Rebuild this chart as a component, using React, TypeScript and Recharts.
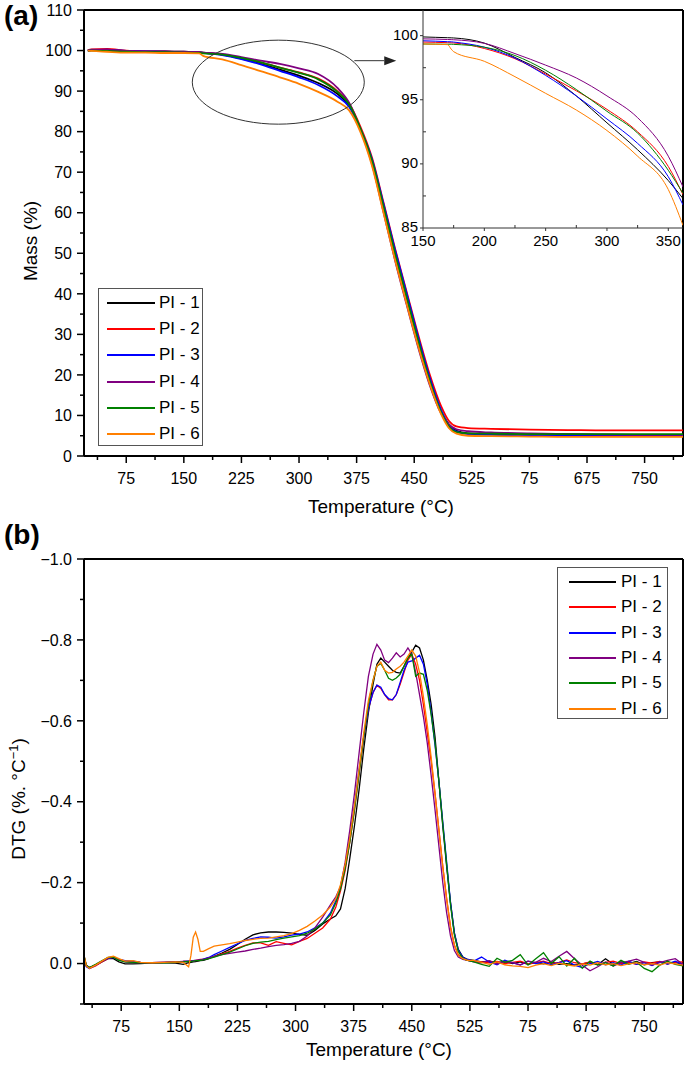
import React from 'react';
import { LineChart, Line, XAxis, YAxis, ReferenceLine, ReferenceDot, Legend } from 'recharts';

const FONT = '"Liberation Sans", Arial, Helvetica, sans-serif';

const seriesNames = ['PI - 1', 'PI - 2', 'PI - 3', 'PI - 4', 'PI - 5', 'PI - 6'];
const seriesKeys = ['s1', 's2', 's3', 's4', 's5', 's6'];
const seriesColors = ['#000000', '#ff0000', '#0000ff', '#800080', '#008000', '#ff7f00'];

// ---------- Panel (a): TGA ----------
const tgaTemp = [25, 30, 50, 75, 100, 125, 150, 170, 175, 200, 225, 250, 275, 300, 325, 350, 365, 380, 395, 410, 425, 440, 455, 470, 485, 495, 505, 520, 550, 600, 650, 700, 750, 800];
const tgaPI1 = [100.0, 100.1, 100.1, 99.9, 99.8, 99.8, 99.7, 99.6, 99.5, 99.0, 98.0, 96.8, 95.3, 93.8, 92.0, 89.3, 86.5, 80.6, 72.8, 61.5, 50.0, 39.3, 28.6, 18.6, 11.0, 7.8, 6.2, 5.6, 5.4, 5.3, 5.3, 5.2, 5.2, 5.2];
const tgaPI2 = [100.1, 100.3, 100.4, 100.0, 99.8, 99.7, 99.6, 99.5, 99.4, 99.0, 98.2, 97.1, 95.8, 94.6, 93.1, 90.0, 87.0, 81.2, 73.6, 62.5, 51.2, 40.6, 30.0, 20.2, 12.3, 8.7, 7.3, 6.9, 6.7, 6.5, 6.4, 6.3, 6.3, 6.3];
const tgaPI3 = [100.0, 100.1, 100.2, 99.9, 99.8, 99.7, 99.6, 99.5, 99.4, 98.9, 97.9, 96.6, 95.0, 93.4, 91.5, 88.7, 86.2, 80.6, 73.2, 62.2, 50.9, 40.2, 29.4, 19.4, 11.3, 7.6, 6.0, 5.4, 5.2, 5.1, 5.0, 5.0, 5.0, 5.0];
const tgaPI4 = [100.0, 100.2, 100.2, 99.9, 99.8, 99.8, 99.7, 99.6, 99.5, 99.2, 98.4, 97.5, 96.7, 95.6, 94.2, 90.8, 87.2, 80.6, 72.0, 60.2, 48.3, 37.4, 26.9, 17.6, 10.5, 7.8, 6.6, 6.1, 5.8, 5.6, 5.4, 5.3, 5.2, 5.2];
const tgaPI5 = [100.0, 100.0, 99.9, 99.7, 99.6, 99.6, 99.5, 99.4, 99.3, 99.0, 98.2, 97.1, 95.8, 94.5, 92.9, 89.8, 86.8, 80.7, 72.9, 61.6, 50.0, 39.3, 28.6, 18.7, 10.8, 7.3, 5.9, 5.6, 5.5, 5.4, 5.4, 5.4, 5.4, 5.4];
const tgaPI6 = [100.0, 99.9, 99.7, 99.5, 99.5, 99.4, 99.4, 99.3, 98.7, 97.8, 96.4, 94.9, 93.4, 91.8, 89.8, 87.4, 85.3, 79.9, 71.6, 60.0, 48.4, 37.6, 27.2, 17.9, 10.3, 6.9, 5.5, 5.0, 4.9, 4.8, 4.7, 4.7, 4.7, 4.7];

// Inset of panel (a)
const insetTemp = [150, 160, 170, 173, 175, 200, 225, 250, 275, 300, 325, 350, 362];
const insetPI1 = [99.9, 99.87, 99.84, 99.83, 99.82, 99.42, 98.3, 97.1, 95.3, 93.2, 91.1, 88.7, 87.3];
const insetPI2 = [99.5, 99.48, 99.45, 99.44, 99.43, 99.0, 98.2, 97.0, 95.7, 94.25, 92.5, 89.8, 87.6];
const insetPI3 = [99.6, 99.57, 99.53, 99.52, 99.5, 99.1, 98.25, 96.9, 95.3, 93.5, 91.6, 89.0, 86.8];
const insetPI4 = [99.75, 99.73, 99.7, 99.69, 99.68, 99.4, 98.6, 97.7, 96.7, 95.3, 93.6, 90.6, 88.2];
const insetPI5 = [99.35, 99.34, 99.33, 99.33, 99.32, 99.1, 98.45, 97.3, 95.8, 94.1, 92.4, 89.5, 87.7];
const insetPI6 = [99.35, 99.33, 99.3, 98.95, 98.75, 98.0, 96.8, 95.5, 94.2, 92.6, 90.6, 88.0, 85.2];

// ---------- Panel (b): DTG ----------
const dtgTemp = [
  27, 30, 34, 42, 50, 58, 65, 72, 80, 90, 100, 115, 130, 145, 155,
  162, 165, 168, 171, 174, 177, 181,
  188, 195,
  205, 215, 225, 235, 245, 255, 265, 275, 285, 295, 305, 315, 325, 335, 345,
  352, 358, 364, 370, 376, 382, 388, 394, 400,
  405, 410, 415, 420, 425, 430, 435, 440, 445, 450, 455, 460, 465, 470, 475, 480, 485, 490, 495, 500, 505, 510,
  516, 522,
  530, 540, 550, 560, 570, 580, 590, 600, 610, 620, 630, 640, 650, 660, 670, 680, 690, 700, 710, 720, 730, 740, 750, 760, 770, 780, 790, 800,
];
const dtgPI1 = [
  -0.02, 0.004, 0.01, 0.004, -0.004, -0.012, -0.012, -0.004, 0.001, 0.001, 0, -0.002, -0.002, -0.001, 0.002,
  -0.002, -0.003, -0.004, -0.005, -0.006, -0.007, -0.008,
  -0.012, -0.018,
  -0.026, -0.035, -0.047, -0.06, -0.071, -0.076, -0.078, -0.078, -0.077, -0.075, -0.072, -0.07, -0.082, -0.098, -0.11,
  -0.118, -0.135, -0.185, -0.26, -0.34, -0.43, -0.53, -0.62, -0.69,
  -0.74, -0.755, -0.745, -0.735, -0.725, -0.72, -0.718, -0.735, -0.755, -0.77, -0.787, -0.78, -0.75, -0.7, -0.64, -0.56, -0.45, -0.34, -0.24, -0.15, -0.075, -0.035,
  -0.016, -0.01,
  -0.008, -0.004, -0.006, -0.002, -0.005, 0, -0.004, 0.002, -0.003, 0.001, -0.004, 0.002, 0, 0.004, 0.001, -0.003, 0.003, -0.012, 0.002, -0.004, 0, -0.005, 0.003, -0.002, -0.004, 0.001, -0.003, 0.002,
];
const dtgPI2 = [
  -0.015, 0.006, 0.012, 0.006, -0.004, -0.012, -0.016, -0.01, -0.006, -0.005, -0.003, -0.002, -0.003, -0.004, -0.005,
  -0.006, -0.007, -0.007, -0.008, -0.009, -0.01, -0.011,
  -0.014, -0.017,
  -0.024, -0.03, -0.038, -0.045, -0.051, -0.051, -0.045, -0.054, -0.05, -0.046, -0.055, -0.062, -0.075, -0.088, -0.11,
  -0.14, -0.18, -0.23, -0.3, -0.38, -0.47, -0.56, -0.63, -0.67,
  -0.688, -0.68, -0.665, -0.652, -0.652, -0.665, -0.69, -0.72, -0.75, -0.765, -0.74, -0.7, -0.64, -0.57, -0.5, -0.42, -0.33, -0.24, -0.16, -0.09, -0.045, -0.022,
  -0.012, -0.008,
  -0.006, -0.004, -0.002, -0.005, 0, -0.003, -0.006, 0.001, -0.002, -0.006, 0, -0.003, -0.009, -0.002, 0.001, -0.004, 0.002, -0.003, -0.006, 0, -0.003, 0.002, -0.004, -0.001, -0.005, 0.001, -0.003, -0.004,
];
const dtgPI3 = [
  -0.01, 0.008, 0.012, 0.004, -0.006, -0.013, -0.015, -0.01, -0.007, -0.006, -0.003, -0.002, -0.003, -0.004, -0.005,
  -0.006, -0.006, -0.007, -0.008, -0.008, -0.009, -0.011,
  -0.015, -0.022,
  -0.031, -0.04, -0.049, -0.057, -0.062, -0.066, -0.065, -0.063, -0.066, -0.07, -0.073, -0.078, -0.088, -0.1, -0.125,
  -0.155, -0.19, -0.24, -0.31, -0.39, -0.48, -0.56, -0.63, -0.67,
  -0.688, -0.683, -0.665, -0.655, -0.652, -0.665, -0.695, -0.725, -0.745, -0.748, -0.755, -0.762, -0.74, -0.69, -0.62, -0.54, -0.45, -0.35, -0.25, -0.15, -0.075, -0.033,
  -0.015, -0.01,
  -0.006, -0.016, -0.004, 0.003, -0.008, -0.002, 0.004, -0.006, 0, -0.004, 0.003, -0.002, -0.007, 0.004, 0.01, 0, -0.005, 0.003, -0.002, 0.004, -0.006, 0.002, -0.002, 0.005, -0.004, 0.001, -0.006, 0.003,
];
const dtgPI4 = [
  -0.012, 0.006, 0.01, 0.004, -0.005, -0.014, -0.017, -0.01, -0.004, -0.003, -0.002, -0.002, -0.003, -0.004, -0.005,
  -0.005, -0.006, -0.006, -0.007, -0.008, -0.009, -0.01,
  -0.014, -0.018,
  -0.022, -0.025, -0.028, -0.031, -0.035, -0.038, -0.042, -0.045, -0.047, -0.05, -0.055, -0.068, -0.088, -0.115, -0.145,
  -0.165, -0.19, -0.25, -0.33, -0.42, -0.52, -0.62, -0.71, -0.765,
  -0.789, -0.775, -0.75, -0.744, -0.755, -0.768, -0.758, -0.765, -0.78, -0.765, -0.72, -0.665, -0.61, -0.545, -0.465, -0.38, -0.29, -0.2, -0.125, -0.068, -0.032, -0.016,
  -0.01, -0.008,
  -0.004, -0.002, -0.007, 0.001, -0.005, -0.002, 0.003, -0.006, -0.003, -0.013, -0.005, -0.018, -0.03, -0.012, 0.004, 0.018, 0.008, -0.004, 0.006, -0.002, -0.006, -0.011, -0.003, 0.004, -0.002, -0.008, -0.012, 0.002,
];
const dtgPI5 = [
  -0.018, 0.005, 0.01, 0.002, -0.007, -0.015, -0.016, -0.008, -0.004, -0.003, -0.002, -0.002, -0.002, -0.003, -0.004,
  -0.005, -0.005, -0.006, -0.007, -0.007, -0.008, -0.009,
  -0.012, -0.016,
  -0.022, -0.028, -0.036, -0.044, -0.05, -0.053, -0.055, -0.059, -0.063, -0.066, -0.069, -0.075, -0.085, -0.1, -0.12,
  -0.15, -0.185, -0.235, -0.3, -0.38, -0.47, -0.56, -0.64, -0.7,
  -0.735, -0.742, -0.725, -0.705, -0.7, -0.706, -0.715, -0.735, -0.755, -0.765, -0.71, -0.718, -0.715, -0.675, -0.615, -0.545, -0.45, -0.345, -0.245, -0.145, -0.07, -0.03,
  -0.012, -0.008,
  -0.004, 0.002, 0.007, -0.013, -0.003, -0.008, -0.022, 0.004, -0.012, -0.027, 0, -0.017, 0.006, -0.013, 0.012, -0.006, 0.004, -0.002, 0.006, -0.008, 0.002, -0.004, 0.012, 0.02, 0.004, -0.006, 0.002, 0.006,
];
const dtgPI6 = [
  -0.02, 0.006, 0.012, 0.004, -0.006, -0.015, -0.018, -0.012, -0.006, -0.007, -0.003, -0.002, -0.003, -0.004, -0.003,
  0.008, -0.02, -0.065, -0.078, -0.06, -0.03, -0.03,
  -0.037, -0.043,
  -0.046, -0.049, -0.053, -0.057, -0.06, -0.062, -0.063, -0.066, -0.069, -0.074, -0.082, -0.092, -0.105, -0.12, -0.14,
  -0.16, -0.195, -0.245, -0.31, -0.39, -0.48, -0.57, -0.65, -0.7,
  -0.735, -0.745, -0.725, -0.718, -0.72, -0.728, -0.735, -0.745, -0.76, -0.775, -0.76, -0.72, -0.66, -0.59, -0.51, -0.42, -0.33, -0.24, -0.16, -0.09, -0.045, -0.02,
  -0.012, -0.008,
  -0.008, -0.003, 0.002, -0.004, 0.003, 0.006, 0.007, 0.01, 0.004, 0, 0.005, -0.001, 0.003, 0.006, 0.001, 0.004, -0.002, 0.003, 0, 0.005, 0.001, -0.002, 0.003, 0, 0.004, -0.002, 0.001, 0.004,
];

// ---------- Ticks ----------
const tempMajorTicks = [75, 150, 225, 300, 375, 450, 525, 600, 675, 750];
const tempMajorLabels = ['75', '150', '225', '300', '375', '450', '525', '75', '675', '750'];
const tempMinorTicks = [37.5, 112.5, 187.5, 262.5, 337.5, 412.5, 487.5, 562.5, 637.5, 712.5, 787.5];

const massMajorTicks = [0, 10, 20, 30, 40, 50, 60, 70, 80, 90, 100, 110];
const massMajorLabels = ['0', '10', '20', '30', '40', '50', '60', '70', '80', '90', '100', '110'];
const massMinorTicks = [5, 15, 25, 35, 45, 55, 65, 75, 85, 95, 105];

const insetXMajorTicks = [150, 200, 250, 300, 350];
const insetXMajorLabels = ['150', '200', '250', '300', '350'];
const insetXMinorTicks = [175, 225, 275, 325];
const insetYMajorTicks = [85, 90, 95, 100];
const insetYMajorLabels = ['85', '90', '95', '100'];
const insetYMinorTicks = [87.5, 92.5, 97.5];

const dtgMajorTicks = [-1.0, -0.8, -0.6, -0.4, -0.2, 0.0];
const dtgMajorLabels = ['\u22121.0', '\u22120.8', '\u22120.6', '\u22120.4', '\u22120.2', '0.0'];
const dtgMinorTicks = [-0.9, -0.7, -0.5, -0.3, -0.1, 0.1];

const tkey = (v: number) => String(Math.round(v * 1000));
const labelMap = (vals: number[], labs: string[]) => {
  const m = new Map<string, string>();
  vals.forEach((v, i) => m.set(tkey(v), labs[i]));
  return m;
};
const allTicks = (a: number[], b: number[]) => [...a, ...b].sort((x, y) => x - y);

type TickOpt = { majorLen: number; minorLen: number; majorDir: number; minorDir: number; fs: number; off: number; base: number; stroke: string; sw: number };

const bottomTick = (labels: Map<string, string>, o: TickOpt) => (p: any) => {
  const { x, y, payload } = p;
  const lab = labels.get(tkey(payload.value));
  const major = lab !== undefined;
  const len = major ? o.majorLen : o.minorLen;
  const dir = major ? o.majorDir : o.minorDir;
  return (
    <g>
      <line x1={x} x2={x} y1={y} y2={y + dir * len} stroke={o.stroke} strokeWidth={o.sw} />
      {major ? (
        <text x={x} y={y + o.off} textAnchor="middle" fontSize={o.fs} fontFamily={FONT} fill="#000">{lab}</text>
      ) : null}
    </g>
  );
};

const leftTick = (labels: Map<string, string>, o: TickOpt) => (p: any) => {
  const { x, y, payload } = p;
  const lab = labels.get(tkey(payload.value));
  const major = lab !== undefined;
  const len = major ? o.majorLen : o.minorLen;
  const dir = major ? o.majorDir : o.minorDir;
  return (
    <g>
      <line x1={x} x2={x - dir * len} y1={y} y2={y} stroke={o.stroke} strokeWidth={o.sw} />
      {major ? (
        <text x={x - o.off} y={y + o.fs * o.base} textAnchor="end" fontSize={o.fs} fontFamily={FONT} fill="#000">{lab}</text>
      ) : null}
    </g>
  );
};

const build = (t: number[], arrs: number[][]) =>
  t.map((tv, i) => {
    const row: any = { t: tv };
    arrs.forEach((a, k) => (row[seriesKeys[k]] = a[i]));
    return row;
  });

const tgaData = build(tgaTemp, [tgaPI1, tgaPI2, tgaPI3, tgaPI4, tgaPI5, tgaPI6]);
const insetData = build(insetTemp, [insetPI1, insetPI2, insetPI3, insetPI4, insetPI5, insetPI6]);
const dtgData = build(dtgTemp, [dtgPI1, dtgPI2, dtgPI3, dtgPI4, dtgPI5, dtgPI6]);

const mainTickOpt: TickOpt = { majorLen: 7, minorLen: 4, majorDir: 1, minorDir: 1, fs: 16, off: 28, base: 0, stroke: '#000', sw: 1.5 };
const mainYTickOpt: TickOpt = { majorLen: 7, minorLen: 4, majorDir: 1, minorDir: 1, fs: 16, off: 12, base: 0.36, stroke: '#000', sw: 1.5 };
const insetXOpt: TickOpt = { majorLen: 3, minorLen: 3, majorDir: 1, minorDir: -1, fs: 15, off: 17.5, base: 0, stroke: '#333', sw: 1 };
const insetYOpt: TickOpt = { majorLen: 3, minorLen: 3, majorDir: 1, minorDir: -1, fs: 15, off: 5, base: 0.28, stroke: '#333', sw: 1 };

const makeLegend = (o: { w: number; h: number; lineLeft: number; lineW: number; lineH: number; gap: number; first: number; step: number; fs: number }) => () => (
  <div style={{ width: o.w, height: o.h, border: '1px solid #555', background: '#fff', boxSizing: 'border-box', position: 'relative', fontFamily: FONT }}>
    {seriesNames.map((n, i) => (
      <div key={n} style={{ position: 'absolute', left: o.lineLeft, top: Math.round(o.first + i * o.step) - 11, height: 22, display: 'flex', alignItems: 'center' }}>
        <div style={{ width: o.lineW, height: o.lineH, background: seriesColors[i] }} />
        <span style={{ marginLeft: o.gap, fontSize: o.fs, lineHeight: '22px', color: '#000', whiteSpace: 'nowrap' }}>{n}</span>
      </div>
    ))}
  </div>
);

const legendA = makeLegend({ w: 105, h: 158, lineLeft: 8, lineW: 48, lineH: 2, gap: 4, first: 14, step: 26.2, fs: 17 });
const legendB = makeLegend({ w: 111, h: 152, lineLeft: 11, lineW: 47, lineH: 2, gap: 5, first: 14, step: 25.3, fs: 17 });

export default function App() {
  const tempLabels = labelMap(tempMajorTicks, tempMajorLabels);
  const tempTicks = allTicks(tempMajorTicks, tempMinorTicks);
  const massLabels = labelMap(massMajorTicks, massMajorLabels);
  const massTicks = allTicks(massMajorTicks, massMinorTicks);
  const inXLabels = labelMap(insetXMajorTicks, insetXMajorLabels);
  const inXTicks = allTicks(insetXMajorTicks, insetXMinorTicks);
  const inYLabels = labelMap(insetYMajorTicks, insetYMajorLabels);
  const inYTicks = allTicks(insetYMajorTicks, insetYMinorTicks);
  const dtgLabels = labelMap(dtgMajorTicks, dtgMajorLabels);
  const dtgTicks = allTicks(dtgMajorTicks, dtgMinorTicks);

  return (
    <div style={{ position: 'absolute', left: 0, top: 0, width: 685, height: 1065, background: '#fff', fontFamily: FONT }}>
      {/* Panel (a) */}
      <div style={{ position: 'absolute', left: 0, top: 0 }}>
        <LineChart width={685} height={520} data={tgaData} margin={{ top: 10, right: 2, bottom: 0, left: 0 }}>
          <XAxis type="number" dataKey="t" domain={[20, 800]} ticks={tempTicks} interval={0} height={64}
            tickLine={false} tickSize={0} tickMargin={0} axisLine={{ stroke: '#000', strokeWidth: 2 }}
            tick={bottomTick(tempLabels, mainTickOpt)} allowDataOverflow />
          <YAxis type="number" domain={[0, 110]} ticks={massTicks} interval={0} width={84}
            tickLine={false} tickSize={0} tickMargin={0} axisLine={{ stroke: '#000', strokeWidth: 2 }}
            tick={leftTick(massLabels, mainYTickOpt)} allowDataOverflow />
          <ReferenceLine y={110} stroke="#000" strokeWidth={2} />
          <ReferenceLine x={800} stroke="#000" strokeWidth={2} />
          {seriesKeys.map((k, i) => (
            <Line key={k} type="monotone" dataKey={k} name={seriesNames[i]} stroke={seriesColors[i]} strokeWidth={1.8} dot={false} isAnimationActive={false} />
          ))}
          <ReferenceDot x={273} y={92.2} r={1} shape={(p: any) => (
            <ellipse cx={p.cx} cy={p.cy} rx={86} ry={42} fill="none" stroke="#333" strokeWidth={1} />
          )} />
          <ReferenceLine segment={[{ x: 372, y: 97.5 }, { x: 411, y: 97.5 }]} stroke="#333" strokeWidth={1} />
          <ReferenceDot x={411} y={97.5} r={1} shape={(p: any) => (
            <polygon points={`${p.cx},${p.cy - 4.5} ${p.cx + 12},${p.cy} ${p.cx},${p.cy + 4.5}`} fill="#222" />
          )} />
          <Legend layout="vertical" align="center" verticalAlign="middle" content={legendA}
            wrapperStyle={{ left: 98, top: 288, width: 105, height: 158 }} />
        </LineChart>
      </div>

      {/* Inset of panel (a) */}
      <div style={{ position: 'absolute', left: 383, top: 0 }}>
        <LineChart width={302} height={250} data={insetData} margin={{ top: 10, right: 2, bottom: 0, left: 0 }}>
          <XAxis type="number" dataKey="t" domain={[150, 362]} ticks={inXTicks} interval={0} height={22}
            tickLine={false} tickSize={0} tickMargin={0} axisLine={{ stroke: '#333', strokeWidth: 1 }}
            tick={bottomTick(inXLabels, insetXOpt)} allowDataOverflow />
          <YAxis type="number" domain={[85, 102]} ticks={inYTicks} interval={0} width={40}
            tickLine={false} tickSize={0} tickMargin={0} axisLine={{ stroke: '#333', strokeWidth: 1 }}
            tick={leftTick(inYLabels, insetYOpt)} allowDataOverflow />
          {seriesKeys.map((k, i) => (
            <Line key={k} type="monotone" dataKey={k} name={seriesNames[i]} stroke={seriesColors[i]} strokeWidth={1} dot={false} isAnimationActive={false} />
          ))}
        </LineChart>
      </div>

      {/* Panel (b) */}
      <div style={{ position: 'absolute', left: 0, top: 520 }}>
        <LineChart width={685} height={545} data={dtgData} margin={{ top: 39, right: 2, bottom: 0, left: 0 }}>
          <XAxis type="number" dataKey="t" domain={[27, 800]} ticks={tempTicks} interval={0} height={61}
            tickLine={false} tickSize={0} tickMargin={0} axisLine={{ stroke: '#000', strokeWidth: 2 }}
            tick={bottomTick(tempLabels, mainTickOpt)} allowDataOverflow />
          <YAxis type="number" domain={[-1.0, 0.1]} reversed ticks={dtgTicks} interval={0} width={84}
            tickLine={false} tickSize={0} tickMargin={0} axisLine={{ stroke: '#000', strokeWidth: 2 }}
            tick={leftTick(dtgLabels, mainYTickOpt)} allowDataOverflow />
          <ReferenceLine y={-1.0} stroke="#000" strokeWidth={2} />
          <ReferenceLine x={800} stroke="#000" strokeWidth={2} />
          {seriesKeys.map((k, i) => (
            <Line key={k} type="linear" dataKey={k} name={seriesNames[i]} stroke={seriesColors[i]} strokeWidth={1.3} dot={false} isAnimationActive={false} />
          ))}
          <Legend layout="vertical" align="center" verticalAlign="middle" content={legendB}
            wrapperStyle={{ left: 557, top: 47, width: 111, height: 152 }} />
        </LineChart>
      </div>

      {/* Titles */}
      <svg width={685} height={1065} style={{ position: 'absolute', left: 0, top: 0, pointerEvents: 'none' }}>
        <text x={4} y={25} fontSize={28} fontWeight="bold" fontFamily={FONT} fill="#000">(a)</text>
        <text x={4} y={544} fontSize={28} fontWeight="bold" fontFamily={FONT} fill="#000">(b)</text>
        <text x={381} y={513} fontSize={19} textAnchor="middle" fontFamily={FONT} fill="#000">Temperature (°C)</text>
        <text x={379} y={1056} fontSize={19} textAnchor="middle" fontFamily={FONT} fill="#000">Temperature (°C)</text>
        <text x={37} y={241} fontSize={19} textAnchor="middle" fontFamily={FONT} fill="#000" transform="rotate(-90 37 241)">Mass (%)</text>
        <text x={25} y={799} fontSize={19} textAnchor="middle" fontFamily={FONT} fill="#000" transform="rotate(-90 25 799)">
          DTG (%. °C<tspan fontSize={13} dy={-7}>−1</tspan><tspan dy={7}>)</tspan>
        </text>
      </svg>
    </div>
  );
}
